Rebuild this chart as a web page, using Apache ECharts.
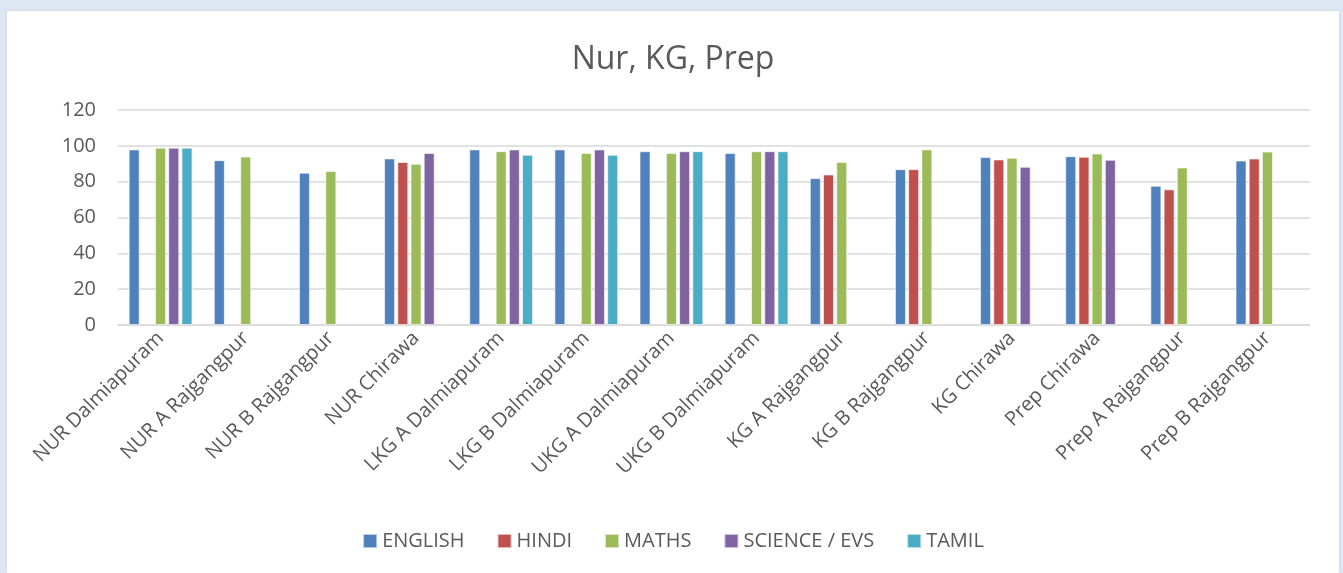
<!DOCTYPE html>
<html>
<head>
<meta charset="utf-8">
<script src="https://cdn.jsdelivr.net/npm/echarts@6/dist/echarts.min.js"></script>
<style>
html, body { margin: 0; padding: 0; width: 1343px; height: 573px; overflow: hidden; background: #dce7f3; }
#chart { position: absolute; left: 7px; top: 11px; width: 1332px; height: 562px; background: #fff; box-shadow: 0 0 2px #c8cdd4; }
</style>
</head>
<body>
<div id="chart"></div>
<script>
var categories = ['NUR Dalmiapuram', 'NUR A Rajgangpur', 'NUR B Rajgangpur', 'NUR Chirawa',
	'LKG A Dalmiapuram', 'LKG B Dalmiapuram', 'UKG A Dalmiapuram', 'UKG B Dalmiapuram',
	'KG A Rajgangpur', 'KG B Rajgangpur', 'KG Chirawa', 'Prep Chirawa',
	'Prep A Rajgangpur', 'Prep B Rajgangpur'];
var english = [98, 92, 85, 93, 98, 98, 97, 96, 82, 87, 93.7, 94.2, 77.7, 91.8];
var hindi = [null, null, null, 91, null, null, null, null, 84, 87, 92.4, 93.9, 75.7, 92.9];
var maths = [99, 94, 86, 90, 97, 96, 96, 97, 91, 98, 93.3, 95.7, 87.9, 96.8];
var science = [99, null, null, 96, 98, 98, 97, 97, null, null, 88.3, 92.2, null, null];
var tamil = [99, null, null, null, 95, 95, 97, 97, null, null, null, null, null, null];
var yTicks = [0, 20, 40, 60, 80, 100, 120];

var fontFam = '"Open Sans", sans-serif';
var textCol = '#595959';

function makeSeries(name, data, color) {
	return {
		name: name,
		type: 'bar',
		data: data,
		barWidth: 11,
		barGap: '20%',
		itemStyle: { color: color, borderColor: 'rgba(255,255,255,0.6)', borderWidth: 1 }
	};
}

var chart = echarts.init(document.getElementById('chart'));
var option = {
	animation: false,
	title: {
		text: 'Nur, KG, Prep',
		left: 'center',
		top: 28,
		textStyle: { fontFamily: fontFam, fontSize: 32, fontWeight: 'normal', color: textCol }
	},
	legend: {
		bottom: 17,
		left: 'center',
		itemWidth: 14,
		itemHeight: 14,
		itemGap: 32,
		icon: 'rect',
		textStyle: { fontFamily: fontFam, fontSize: 20, color: textCol }
	},
	grid: { left: 111, right: 29, top: 99, bottom: 248, containLabel: false },
	xAxis: {
		type: 'category',
		data: categories,
		axisLine: { lineStyle: { color: '#d9d9d9', width: 1.5 } },
		axisTick: { show: false },
		axisLabel: {
			interval: 0,
			rotate: 45,
			margin: 10,
			fontFamily: fontFam,
			fontSize: 20,
			color: textCol
		}
	},
	yAxis: {
		type: 'value',
		min: yTicks[0],
		max: yTicks[yTicks.length - 1],
		interval: 20,
		axisLine: { show: false },
		axisTick: { show: false },
		splitLine: { lineStyle: { color: '#d9d9d9', width: 1.5 } },
		axisLabel: { margin: 22, fontFamily: fontFam, fontSize: 20, color: textCol }
	},
	series: [
		makeSeries('ENGLISH', english, '#4F81BD'),
		makeSeries('HINDI', hindi, '#C0504D'),
		makeSeries('MATHS', maths, '#9BBB59'),
		makeSeries('SCIENCE / EVS', science, '#8064A2'),
		makeSeries('TAMIL', tamil, '#4BACC6')
	]
};
chart.setOption(option);
</script>
</body>
</html>
